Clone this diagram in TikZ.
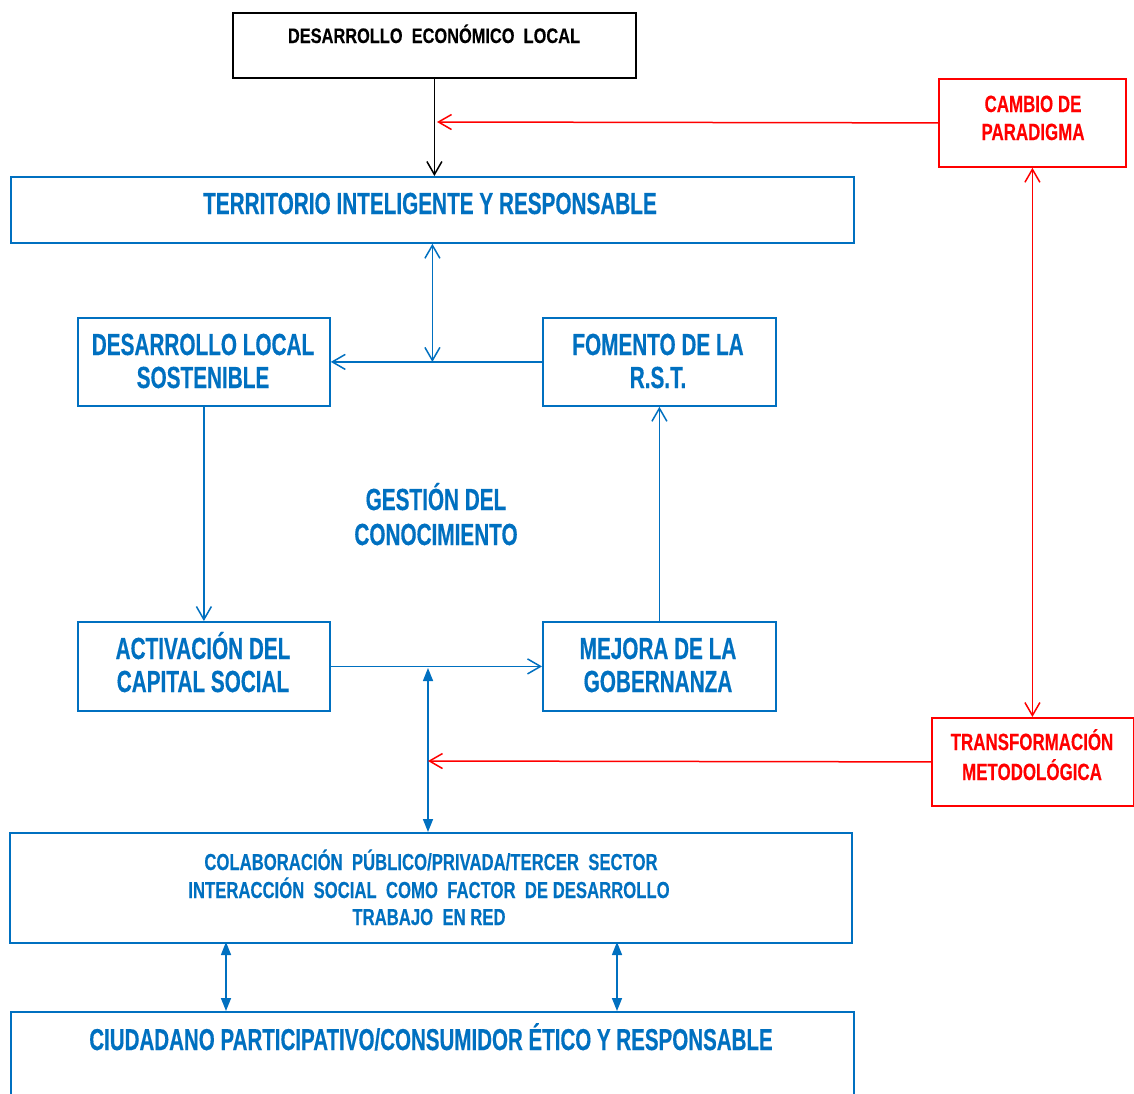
\documentclass[tikz,border=0pt]{standalone}
\usepackage{fontspec}
\setmainfont{Liberation Sans}
\newfontfamily\fA{Liberation Sans}[FakeStretch=0.68,FakeBold=0.4]
\newfontfamily\fB{Liberation Sans}[FakeStretch=0.72,FakeBold=0.3]
\newfontfamily\fC{Liberation Sans}[FakeStretch=0.78,FakeBold=0.3]
\usetikzlibrary{arrows.meta}
\definecolor{bl}{HTML}{0070C0}
\definecolor{rd}{HTML}{FF0000}
\begin{document}
\begin{tikzpicture}[x=1pt,y=-1pt,
  box/.style={draw, line width=1.8pt, inner sep=0pt, anchor=north west},
  bbox/.style={box, draw=bl},
  rbox/.style={box, draw=rd},
  kbox/.style={box, draw=black},
  txt/.style={anchor=base, inner sep=0pt},
  bigtxt/.style={txt, text=bl, font=\fA\bfseries\fontsize{30.5}{34}\selectfont},
  midtxt/.style={txt, text=bl, font=\fB\bfseries\fontsize{23.2}{28}\selectfont},
  redtxt/.style={txt, text=rd, font=\fB\bfseries\fontsize{23.5}{28}\selectfont},
  blktxt/.style={txt, text=black, font=\fC\bfseries\fontsize{21}{24}\selectfont},
  conn/.style={line width=1.5pt},
  openhead/.style={-{Straight Barb[length=13pt,width=15pt,line width=1.5pt]}},
  openboth/.style={{Straight Barb[length=13pt,width=15pt,line width=1.5pt]}-{Straight Barb[length=13pt,width=15pt,line width=1.5pt]}},
  fillboth/.style={{Triangle[length=13pt,width=10pt]}-{Triangle[length=13pt,width=10pt]}},
]
\clip (0,0) rectangle (1134,1093);
\fill[white] (0,0) rectangle (1134,1093);

% boxes
\node[kbox, minimum width=403pt, minimum height=65pt] (del) at (232,12) {};
\node[bbox, minimum width=843pt, minimum height=66pt] (ter) at (10,176) {};
\node[bbox, minimum width=252pt, minimum height=88pt] (dls) at (77,317) {};
\node[bbox, minimum width=233pt, minimum height=88pt] (fom) at (542,317) {};
\node[bbox, minimum width=252pt, minimum height=89pt] (act) at (77,621) {};
\node[bbox, minimum width=233pt, minimum height=89pt] (mej) at (542,621) {};
\node[bbox, minimum width=842pt, minimum height=110pt] (col) at (9,832) {};
\node[bbox, minimum width=843pt, minimum height=130pt] (ciu) at (10,1011) {};
\node[rbox, minimum width=187pt, minimum height=88pt] (cam) at (938,78) {};
\node[rbox, minimum width=202pt, minimum height=88pt] (tra) at (931,717) {};

% texts
\node[blktxt] (tdel) at (434,43) {DESARROLLO\ \ ECONÓMICO\ \ LOCAL};
\node[bigtxt] (tter) at (430,214) {TERRITORIO INTELIGENTE Y RESPONSABLE};
\node[bigtxt] (tdls1) at (203,355) {DESARROLLO LOCAL};
\node[bigtxt] (tdls2) at (203,388) {SOSTENIBLE};
\node[bigtxt] (tfom1) at (658,355) {FOMENTO DE LA};
\node[bigtxt] (tfom2) at (658,388) {R.S.T.};
\node[bigtxt] (tges1) at (436,510) {GESTIÓN DEL};
\node[bigtxt] (tges2) at (436,545) {CONOCIMIENTO};
\node[bigtxt] (tact1) at (203,659) {ACTIVACIÓN DEL};
\node[bigtxt] (tact2) at (203,692) {CAPITAL SOCIAL};
\node[bigtxt] (tmej1) at (658,659) {MEJORA DE LA};
\node[bigtxt] (tmej2) at (658,692) {GOBERNANZA};
\node[midtxt] (tcol1) at (431,870) {COLABORACIÓN\ \ PÚBLICO/PRIVADA/TERCER\ \ SECTOR};
\node[midtxt] (tcol2) at (429,898) {INTERACCIÓN\ \ SOCIAL\ \ COMO\ \ FACTOR\ \ DE DESARROLLO};
\node[midtxt] (tcol3) at (429,925) {TRABAJO\ \ EN RED};
\node[bigtxt, font=\fA\bfseries\fontsize{30.2}{34}\selectfont] (tciu) at (431,1050) {CIUDADANO PARTICIPATIVO/CONSUMIDOR ÉTICO Y RESPONSABLE};
\node[redtxt] (tcam1) at (1033,112) {CAMBIO\ DE};
\node[redtxt] (tcam2) at (1033,140) {PARADIGMA};
\node[redtxt] (ttra1) at (1032,750) {TRANSFORMACIÓN};
\node[redtxt] (ttra2) at (1032,780) {METODOLÓGICA};

% free ends
\coordinate (rc1) at (437,122);
\coordinate (kc) at (428,668);
\coordinate (rc2) at (428,761);
\coordinate (b1) at (226,942);
\coordinate (b2) at (617,942);

% connectors
\draw[conn, black, openhead] (del.south) -- (del.south |- ter.north);
\draw[conn, rd, openhead] (cam.west) -- (rc1);
\draw[conn, bl, openboth] (ter.south) -- (ter.south |- fom.west);
\draw[conn, bl, openhead] (fom.west) -- (dls.east);
\draw[conn, bl, openhead] (dls.south) -- (act.north);
\draw[conn, bl, openhead] (act.east) -- (mej.west);
\draw[conn, bl, openhead] (mej.north) -- (fom.south);
\draw[conn, bl, fillboth] (kc) -- (kc |- col.north);
\draw[conn, rd, openhead] (tra.west) -- (rc2);
\draw[conn, rd, openboth] (cam.south) -- (cam.south |- tra.north);
\draw[conn, bl, fillboth] (b1) -- (b1 |- ciu.north);
\draw[conn, bl, fillboth] (b2) -- (b2 |- ciu.north);
\end{tikzpicture}
\end{document}
